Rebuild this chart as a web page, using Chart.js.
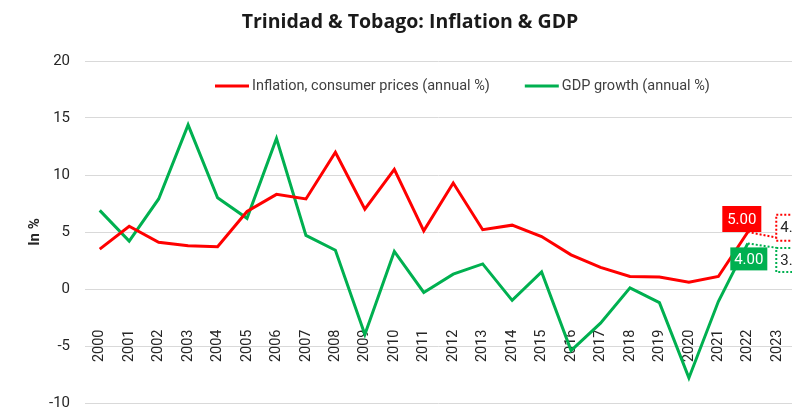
<!DOCTYPE html>
<html>
<head>
<meta charset="utf-8">
<script src="https://cdn.jsdelivr.net/npm/chart.js@4.4.1/dist/chart.umd.min.js"></script>
<style>
  html, body { margin: 0; padding: 0; background: #fff; }
</style>
</head>
<body>
<canvas id="ttChart" width="792" height="414"></canvas>
<script>
// Trinidad & Tobago - inflation vs GDP growth

const years = ['2000', '2001', '2002', '2003', '2004', '2005', '2006', '2007', '2008', '2009', '2010', '2011',
    '2012', '2013', '2014', '2015', '2016', '2017', '2018', '2019', '2020', '2021', '2022', '2023'];
const inflation = [3.5, 5.5, 4.1, 3.8, 3.7, 6.8, 8.3, 7.9, 12.0, 7.0, 10.5, 5.1,
    9.3, 5.2, 5.6, 4.6, 3.0, 1.9, 1.1, 1.05, 0.6, 1.1, 5.0, 4.5];
const gdpGrowth = [6.9, 4.2, 7.9, 14.4, 8.0, 6.2, 13.2, 4.7, 3.4, -4.0, 3.3, -0.3,
    1.3, 2.2, -1.0, 1.5, -5.4, -3.0, 0.1, -1.2, -7.8, -1.1, 4.0, 3.6];
const yTicks = [-10, -5, 0, 5, 10, 15, 20];

const chartTitle = 'Trinidad & Tobago: Inflation & GDP';

const RED = '#ff0000';
const GREEN = '#00b050';
const TEXT = '#262626';
const FONT = 'Roboto, sans-serif';

// title + legend are drawn by hand: the legend sits inside the plot
const titleAndLegend = {
    id: 'titleAndLegend',
    afterDraw(chart) {
        const ctx = chart.ctx;
        ctx.save();
        ctx.fillStyle = '#1a1a1a';
        ctx.font = 'bold 19.5px "Open Sans", sans-serif';
        ctx.textAlign = 'center';
        ctx.textBaseline = 'middle';
        ctx.fillText(chartTitle, 410, 22);

        let x = 215;
        const y = 86;
        ctx.font = '14.5px ' + FONT;
        ctx.textAlign = 'left';
        chart.data.datasets.forEach(ds => {
            ctx.strokeStyle = ds.borderColor;
            ctx.lineWidth = 3;
            ctx.beginPath();
            ctx.moveTo(x, y);
            ctx.lineTo(x + 34, y);
            ctx.stroke();
            ctx.fillStyle = '#404040';
            ctx.fillText(ds.label, x + 37, y);
            x += 37 + ctx.measureText(ds.label).width + 35;
        });
        ctx.restore();
    }
};

// value boxes for 2022 and 2023
const valueBoxes = {
    id: 'valueBoxes',
    afterDatasetsDraw(chart) {
        const ctx = chart.ctx;
        ctx.save();
        ctx.font = '15px ' + FONT;
        ctx.textBaseline = 'middle';
        chart.data.datasets.forEach((ds, i) => {
            const meta = chart.getDatasetMeta(i);
            const p22 = meta.data[22];
            const p23 = meta.data[23];
            const color = ds.borderColor;

            // solid box
            let w = i === 0 ? 39 : 37;
            let h = i === 0 ? 26 : 23;
            let bx = i === 0 ? p22.x - 6 - w / 2 : p22.x + 1 - w / 2;
            let by = i === 0 ? p22.y - h : p22.y + 4;
            ctx.fillStyle = color;
            ctx.fillRect(bx, by, w, h);
            ctx.fillStyle = '#fff';
            ctx.textAlign = 'center';
            ctx.fillText(ds.data[22].toFixed(2), bx + w / 2, by + h / 2 + 1);

            // dotted forecast box
            w = 42;
            h = i === 0 ? 26 : 24;
            bx = p23.x - 1;
            by = i === 0 ? p23.y - 23 : p23.y;
            ctx.fillStyle = '#fff';
            ctx.fillRect(bx, by, w, h);
            ctx.setLineDash([2, 2]);
            ctx.lineWidth = 2;
            ctx.strokeStyle = color;
            ctx.strokeRect(bx, by, w, h);
            ctx.setLineDash([]);
            ctx.fillStyle = TEXT;
            ctx.textAlign = 'left';
            ctx.fillText(ds.data[23].toFixed(2), bx + 4, by + h / 2 + 1);
        });
        ctx.restore();
    }
};

const dotted = ctx => ctx.p1DataIndex === 23 ? [2, 2] : undefined;
const dottedWidth = ctx => ctx.p1DataIndex === 23 ? 2 : undefined;

new Chart(document.getElementById('ttChart'), {
    type: 'line',
    data: {
        labels: years,
        datasets: [{
            label: 'Inflation, consumer prices (annual %)',
            data: inflation,
            borderColor: RED,
            backgroundColor: RED,
            borderWidth: 3,
            pointRadius: 0,
            tension: 0,
            segment: { borderDash: dotted, borderWidth: dottedWidth }
        }, {
            label: 'GDP growth (annual %)',
            data: gdpGrowth,
            borderColor: GREEN,
            backgroundColor: GREEN,
            borderWidth: 3,
            pointRadius: 0,
            tension: 0,
            segment: { borderDash: dotted, borderWidth: dottedWidth }
        }]
    },
    options: {
        responsive: false,
        animation: false,
        layout: { padding: { left: 0, right: 0, top: 61, bottom: 11 } },
        plugins: {
            legend: { display: false },
            tooltip: { enabled: false },
            title: { display: false }
        },
        scales: {
            x: {
                offset: true,
                position: { y: -3.2 },
                grid: { display: false, drawTicks: false },
                border: { display: false },
                ticks: {
                    autoSkip: false,
                    minRotation: 90,
                    maxRotation: 90,
                    padding: 4,
                    color: TEXT,
                    font: { family: FONT, size: 14.5 }
                },
                afterFit: scale => {
                    scale.paddingLeft = 0;
                    scale.paddingRight = 0;
                    scale.height = 0;
                }
            },
            y: {
                min: -10,
                max: 20,
                afterBuildTicks: scale => {
                    scale.ticks = yTicks.map(v => ({ value: v }));
                },
                grid: { color: '#d9d9d9', lineWidth: 1, drawTicks: false },
                border: { display: false },
                ticks: {
                    padding: 15,
                    color: TEXT,
                    font: { family: FONT, size: 15 }
                },
                title: {
                    display: true,
                    text: 'In %',
                    color: TEXT,
                    font: { family: FONT, size: 15, weight: 'bold' },
                    padding: { top: 26, bottom: 0 }
                },
                afterFit: scale => {
                    scale.width = 85;
                    scale.paddingTop = 0;
                    scale.paddingBottom = 0;
                }
            }
        }
    },
    plugins: [valueBoxes, titleAndLegend]
});
</script>
</body>
</html>
